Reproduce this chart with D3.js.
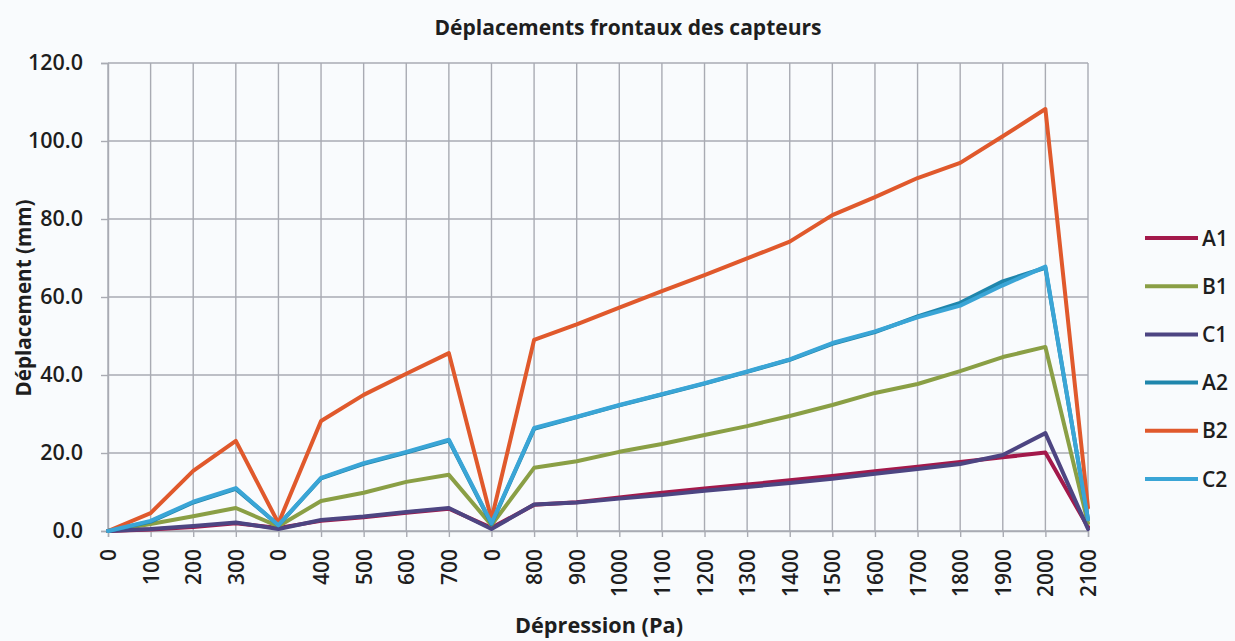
<!DOCTYPE html>
<html>
<head>
<meta charset="utf-8">
<script src="https://cdn.jsdelivr.net/npm/d3@7"></script>
<style>
    body { margin: 0; background: #f9fbfd; }
    svg { display: block; }
    text { font-family: "Open Sans", "DejaVu Sans", sans-serif; fill: #1e1e1e; }
</style>
</head>
<body>
<div id="chart"></div>
<script>
// categories (pressure steps, with return-to-zero points)
const categories = ["0", "100", "200", "300", "0", "400", "500", "600", "700", "0",
    "800", "900", "1000", "1100", "1200", "1300", "1400", "1500", "1600", "1700",
    "1800", "1900", "2000", "2100"];

const seriesNames = ["A1", "B1", "C1", "A2", "B2", "C2"];
const seriesColors = ["#a3194b", "#8a9f45", "#4d4582", "#1f86ac", "#e0592c", "#3aa5d6"];

const A1 = [0, 0.4, 1.0, 2.0, 0.8, 2.6, 3.5, 4.7, 5.7, 0.8, 6.7, 7.4, 8.6, 9.8, 10.9, 11.9, 13.0, 14.1, 15.3, 16.5, 17.7, 18.9, 20.1, 1.0];
const B1 = [0, 1.8, 3.8, 5.9, 1.2, 7.7, 9.8, 12.6, 14.4, 1.5, 16.2, 17.9, 20.3, 22.3, 24.6, 26.9, 29.5, 32.3, 35.4, 37.7, 41.0, 44.6, 47.2, 2.0];
const C1 = [0, 0.5, 1.3, 2.2, 0.5, 2.8, 3.7, 4.9, 5.9, 0.5, 6.8, 7.3, 8.3, 9.2, 10.3, 11.3, 12.3, 13.4, 14.7, 15.9, 17.2, 19.5, 25.1, 0.5];
const A2 = [0, 2.4, 7.3, 10.8, 1.5, 13.5, 17.2, 20.1, 23.2, 1.8, 26.2, 29.2, 32.2, 35.0, 37.8, 40.8, 43.9, 48.0, 51.0, 55.0, 58.5, 64.0, 67.5, 3.0];
const B2 = [0, 4.6, 15.4, 23.1, 2.0, 28.2, 34.9, 40.3, 45.6, 3.0, 49.0, 53.0, 57.3, 61.5, 65.6, 69.9, 74.2, 81.0, 85.6, 90.5, 94.4, 101.2, 108.2, 6.0];
const C2 = [0, 2.6, 7.5, 11.0, 1.5, 13.6, 17.4, 20.3, 23.4, 2.0, 26.4, 29.3, 32.3, 35.1, 37.9, 40.9, 44.0, 48.2, 51.2, 54.8, 57.8, 63.0, 67.8, 3.0];

const yTicks = [0, 20, 40, 60, 80, 100, 120];

const allSeries = [A1, B1, C1, A2, B2, C2];

const width = 1235, height = 641;
const margin = {top: 63, left: 108, right: 147, bottom: 110};
const plotRight = width - margin.right;
const plotBottom = height - margin.bottom;

const svg = d3.select("#chart").append("svg")
    .attr("width", width)
    .attr("height", height);

const x = d3.scalePoint()
    .domain(d3.range(categories.length))
    .range([margin.left, plotRight]);

const y = d3.scaleLinear()
    .domain([0, 120])
    .range([plotBottom, margin.top]);

// grid
const gridColor = "#a9abb3";
svg.append("g")
    .selectAll("line")
    .data(yTicks)
    .join("line")
    .attr("x1", margin.left)
    .attr("x2", plotRight)
    .attr("y1", d => y(d))
    .attr("y2", d => y(d))
    .attr("stroke", gridColor)
    .attr("stroke-width", 1.4);

svg.append("g")
    .selectAll("line")
    .data(d3.range(categories.length))
    .join("line")
    .attr("x1", d => x(d))
    .attr("x2", d => x(d))
    .attr("y1", margin.top)
    .attr("y2", plotBottom)
    .attr("stroke", gridColor)
    .attr("stroke-width", 1.4);

// axes
const xAxis = svg.append("g")
    .attr("transform", `translate(0, ${plotBottom})`)
    .call(d3.axisBottom(x).tickSize(6).tickFormat(i => categories[i]));

xAxis.select(".domain").attr("stroke", gridColor).attr("stroke-width", 1.4);
xAxis.selectAll(".tick line").attr("stroke", gridColor).attr("stroke-width", 1.4);
xAxis.selectAll(".tick text")
    .attr("transform", "rotate(-90)")
    .attr("text-anchor", "end")
    .attr("x", -18)
    .attr("y", 0)
    .attr("dy", "0.36em")
    .style("font-size", "21px")
    .style("font-weight", "600")
    .style("fill", "#1e1e1e");

const yAxis = svg.append("g")
    .attr("transform", `translate(${margin.left}, 0)`)
    .call(d3.axisLeft(y).tickValues(yTicks).tickSize(7).tickPadding(18).tickFormat(d3.format(".1f")));

yAxis.select(".domain").attr("stroke", gridColor).attr("stroke-width", 1.4);
yAxis.selectAll(".tick line").attr("stroke", gridColor).attr("stroke-width", 1.4);
yAxis.selectAll(".tick text")
    .style("font-size", "21.5px")
    .style("font-weight", "600")
    .style("fill", "#1e1e1e");

// lines
const line = d3.line()
    .x((d, i) => x(i))
    .y(d => y(d));

svg.append("g")
    .selectAll("path")
    .data(allSeries)
    .join("path")
    .attr("fill", "none")
    .attr("stroke", (d, i) => seriesColors[i])
    .attr("stroke-width", 4)
    .attr("stroke-linejoin", "round")
    .attr("stroke-linecap", "round")
    .attr("d", line);

// titles
svg.append("text")
    .attr("x", 628)
    .attr("y", 35)
    .attr("text-anchor", "middle")
    .attr("textLength", 387)
    .attr("lengthAdjust", "spacingAndGlyphs")
    .style("font-size", "21px")
    .style("font-weight", "bold")
    .text("Déplacements frontaux des capteurs");

svg.append("text")
    .attr("transform", "translate(31, 298) rotate(-90)")
    .attr("text-anchor", "middle")
    .attr("textLength", 197)
    .attr("lengthAdjust", "spacingAndGlyphs")
    .style("font-size", "21px")
    .style("font-weight", "bold")
    .text("Déplacement (mm)");

svg.append("text")
    .attr("x", 599)
    .attr("y", 633)
    .attr("text-anchor", "middle")
    .attr("textLength", 168)
    .attr("lengthAdjust", "spacingAndGlyphs")
    .style("font-size", "21px")
    .style("font-weight", "bold")
    .text("Dépression (Pa)");

// legend
const legendY = d3.scalePoint()
    .domain(seriesNames)
    .range([238, 479]);

const legend = svg.append("g")
    .selectAll("g")
    .data(seriesNames)
    .join("g")
    .attr("transform", d => `translate(1145, ${legendY(d)})`);

legend.append("line")
    .attr("x1", 0)
    .attr("x2", 53)
    .attr("stroke", (d, i) => seriesColors[i])
    .attr("stroke-width", 4);

legend.append("text")
    .attr("x", 57)
    .attr("dy", "0.36em")
    .style("font-size", "21px")
    .style("font-weight", "600")
    .text(d => d);
</script>
</body>
</html>
